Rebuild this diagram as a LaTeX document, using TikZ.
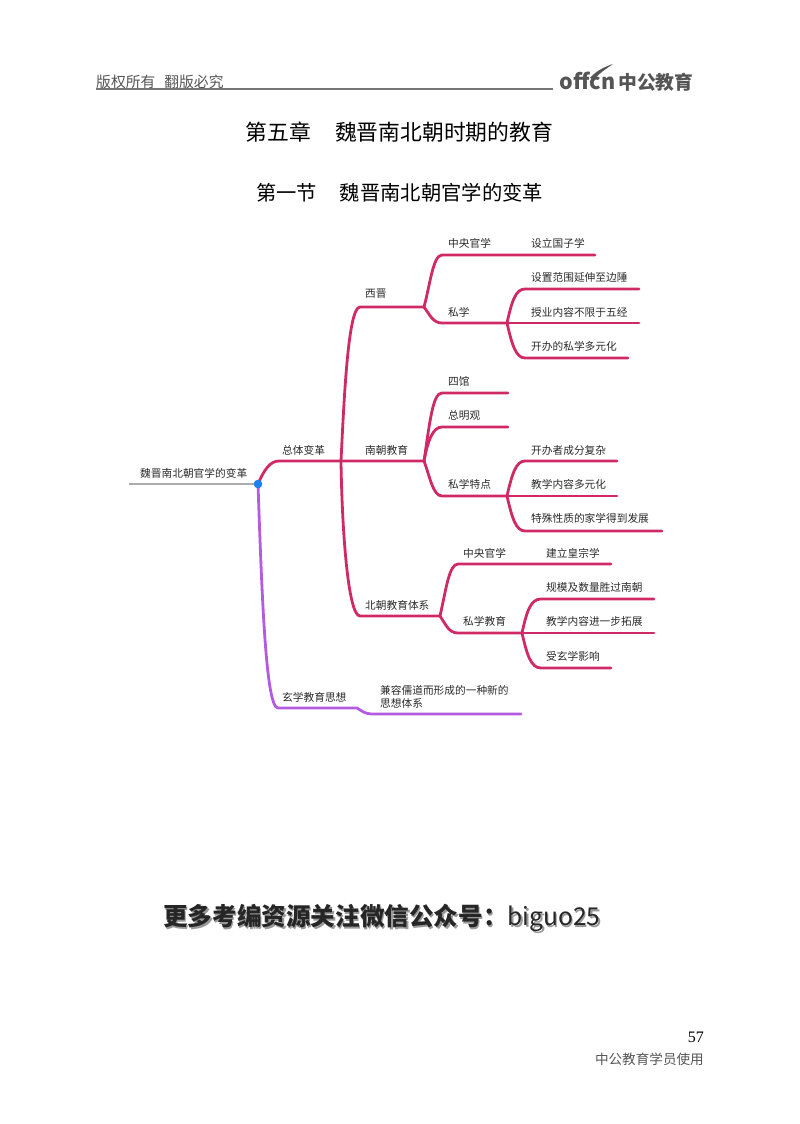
\documentclass[tikz,border=0pt]{standalone}
\usepackage{fontspec}
\setmainfont{Liberation Serif}
\newfontfamily\cjk{Noto Sans CJK SC}
\definecolor{pinkline}{HTML}{D02A66}
\definecolor{purpleline}{HTML}{B45CE0}
\definecolor{greyline}{HTML}{ADADAD}
\definecolor{bluedot}{HTML}{1E80F0}
\definecolor{inktext}{HTML}{2A2A2A}
\definecolor{logogrey}{HTML}{555555}
\tikzset{
  pinkbranch/.style={draw=pinkline, line width=2.8pt, line cap=round},
  purplebranch/.style={draw=purpleline, line width=2.8pt, line cap=round},
  maplabel/.style={anchor=west, inner sep=0pt, font=\cjk\fontsize{10.7}{13}\selectfont, text=inktext},
}
\begin{document}
\begin{tikzpicture}[x=1pt, y=-1pt]
    \useasboundingbox (0,0) rectangle (800,1124);
    % page head
    \node (copyright) [anchor=west, inner sep=0pt, text=logogrey, font=\cjk\fontsize{14.8}{16}\selectfont] at (96,82) {版权所有\hspace{9pt}翻版必究};
    \coordinate (headstart) at (96,89);
    \coordinate (headend) at (553,89);
    \draw[logogrey!80, line width=1.2pt] (headstart) -- (headend);
    \node (logolatin) [anchor=west, inner sep=0pt, text=logogrey, font=\cjk\bfseries\fontsize{21.5}{24}\selectfont] at (559.5,81) {offcn};
    \node (logocjk) [anchor=west, inner sep=0pt, text=logogrey, font=\cjk\bfseries\fontsize{18.8}{20}\selectfont] at (618,82) {中公教育};
    \fill[logogrey] (590,78) .. controls (596,71) and (604,67) .. (613,64) .. controls (606,69) and (599,73) .. (594,80) -- cycle;
    \node (chaptertitle) [inner sep=0pt, font=\cjk\fontsize{21.8}{24}\selectfont] at (399.5,132) {第五章\hspace{24pt}魏晋南北朝时期的教育};
    \node (sectiontitle) [inner sep=0pt, font=\cjk\fontsize{20.3}{24}\selectfont] at (399.5,193) {第一节\hspace{23pt}魏晋南北朝官学的变革};
    % map
    \coordinate (hub) at (258,484);
    \coordinate (rootstart) at (129,484);
    \coordinate (overall) at (341,461);
    \coordinate (xijin) at (424,307);
    \coordinate (nanchao) at (424,461);
    \coordinate (beichao) at (440,616);
    \coordinate (xjprivate) at (507,323);
    \coordinate (ncprivate) at (507,496);
    \coordinate (bcprivate) at (522,633);
    \draw[greyline, line width=2.8pt] (rootstart) -- (hub);
    \draw[pinkbranch] (hub) .. controls (264,470) and (270,461) .. (279,461) -- (overall) -- (nanchao);
    \draw[pinkbranch] (overall) .. controls (344,400) and (348,307) .. (360,307) -- (xijin);
    \draw[pinkbranch] (overall) .. controls (342,530) and (348,616) .. (360,616) -- (beichao);
    % xijin
    \draw[pinkbranch] (xijin) .. controls (430,285) and (433,255) .. (442,255) -- (595,255);
    \draw[pinkbranch] (xijin) .. controls (430,315) and (433,323) .. (442,323) -- (xjprivate);
    \draw[pinkbranch] (xjprivate) .. controls (512,300) and (516,289) .. (525,289) -- (639,289);
    \draw[pinkbranch] (xjprivate) -- (639,323);
    \draw[pinkbranch] (xjprivate) .. controls (512,345) and (516,358) .. (525,358) -- (628,358);
    % nanchao
    \draw[pinkbranch] (nanchao) .. controls (430,420) and (433,393) .. (442,393) -- (508,393);
    \draw[pinkbranch] (nanchao) .. controls (428,440) and (433,427) .. (442,427) -- (508,427);
    \draw[pinkbranch] (nanchao) .. controls (430,477) and (433,496) .. (442,496) -- (ncprivate);
    \draw[pinkbranch] (ncprivate) .. controls (512,474) and (516,461) .. (525,461) -- (617,461);
    \draw[pinkbranch] (ncprivate) -- (617,496);
    \draw[pinkbranch] (ncprivate) .. controls (512,518) and (516,531) .. (525,531) -- (662,531);
    % beichao
    \draw[pinkbranch] (beichao) .. controls (446,590) and (449,564) .. (458,564) -- (611,564);
    \draw[pinkbranch] (beichao) .. controls (446,625) and (449,633) .. (458,633) -- (bcprivate);
    \draw[pinkbranch] (bcprivate) .. controls (527,610) and (531,599) .. (541,599) -- (654,599);
    \draw[pinkbranch] (bcprivate) -- (654,633);
    \draw[pinkbranch] (bcprivate) .. controls (527,655) and (531,668) .. (541,668) -- (611,668);
    % xuanxue
    \draw[purplebranch] (hub) .. controls (262,600) and (266,708) .. (278,708) -- (357,708) .. controls (362,711) and (365,714) .. (372,714) -- (521,714);
    \fill[bluedot] (hub) circle (4.3pt);
    % labels
    \node (rootlabel) [maplabel] at (140,473) {魏晋南北朝官学的变革};
    \node (overalllabel) [maplabel] at (282,450) {总体变革};
    \node (xijinlabel) [maplabel] at (365,294) {西晋};
    \node (nanchaolabel) [maplabel] at (365,450) {南朝教育};
    \node (beichaolabel) [maplabel] at (365,605) {北朝教育体系};
    \node (xjcentral) [maplabel] at (448,243) {中央官学};
    \node (xjcentralitem) [maplabel] at (531,243) {设立国子学};
    \node (xjprivatelabel) [maplabel] at (448,312) {私学};
    \node (xjitema) [maplabel] at (531,277) {设置范围延伸至边陲};
    \node (xjitemb) [maplabel] at (531,312) {授业内容不限于五经};
    \node (xjitemc) [maplabel] at (531,346) {开办的私学多元化};
    \node (siguan) [maplabel] at (448,381) {四馆};
    \node (zongmingguan) [maplabel] at (448,415) {总明观};
    \node (ncprivatelabel) [maplabel] at (448,484) {私学特点};
    \node (ncitema) [maplabel] at (531,450) {开办者成分复杂};
    \node (ncitemb) [maplabel] at (531,484) {教学内容多元化};
    \node (ncitemc) [maplabel] at (531,518) {特殊性质的家学得到发展};
    \node (bccentral) [maplabel] at (463,553) {中央官学};
    \node (bccentralitem) [maplabel] at (546,553) {建立皇宗学};
    \node (bcprivatelabel) [maplabel] at (463,621) {私学教育};
    \node (bcitema) [maplabel] at (546,587) {规模及数量胜过南朝};
    \node (bcitemb) [maplabel] at (546,621) {教学内容进一步拓展};
    \node (bcitemc) [maplabel] at (546,656) {受玄学影响};
    \node (xuanxue) [maplabel] at (282,697) {玄学教育思想};
    \node (xuanxueitem) [maplabel, align=left] at (380,697) {兼容儒道而形成的一种新的\\思想体系};
    % page foot
    \node (noticeshadow) [anchor=west, inner sep=0pt, text=black!40, font=\cjk\fontsize{24.6}{26}\selectfont] at (164.5,919.5) {\textbf{更多考编资源关注微信公众号：}biguo25};
    \node (notice) [anchor=west, inner sep=0pt, text=black!85, font=\cjk\fontsize{24.6}{26}\selectfont] at (163,918) {\textbf{更多考编资源关注微信公众号：}biguo25};
    \node (pagenumber) [anchor=east, inner sep=0pt, font=\fontsize{16}{18}\selectfont] at (704,1037) {57};
    \node (footnote) [anchor=east, inner sep=0pt, text=logogrey, font=\cjk\fontsize{13.6}{16}\selectfont] at (704,1059) {中公教育学员使用};
\end{tikzpicture}
\end{document}
